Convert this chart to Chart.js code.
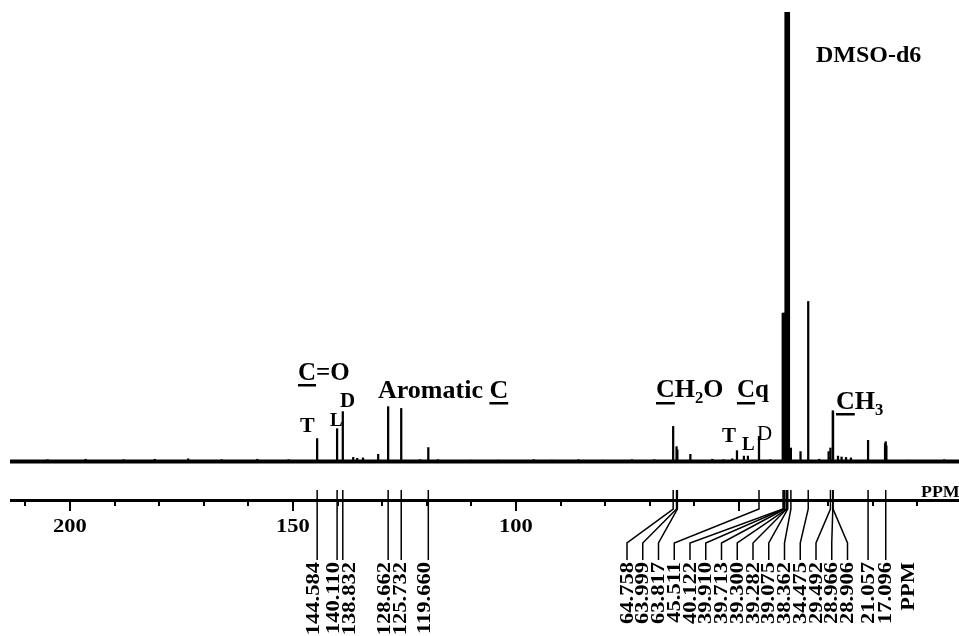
<!DOCTYPE html>
<html><head><meta charset="utf-8">
<script src="https://cdn.jsdelivr.net/npm/chart.js@4.4.0/dist/chart.umd.min.js"></script>
<style>html,body{margin:0;padding:0;background:#fff;overflow:hidden}#wrap{width:959px;height:636px;position:relative}</style>
</head><body><div id="wrap"><canvas id="c" width="959" height="636"></canvas></div>
<script>
// ---- DATA ----
const peakShifts  = [205.0,196.5,188.0,181.0,173.5,166.0,158.0,151.0,
  144.584,140.110,138.832,136.5,135.6,134.3,130.9,128.662,125.732,121.5,119.660,117.5,110.0,104.0,96.0,92.0,86.0,80.5,74.0,69.0,
  64.758,63.999,63.817,60.9,56.0,53.5,51.5,50.45,48.9,48.0,45.511,43.0,
  38.362,
  36.2,34.475,32.0,29.9,29.492,28.966,28.906,27.8,27.0,26.0,24.9,21.057,17.25,17.096,16.95,12.0,4.0];
const peakHeights = [0.4,0.5,0.4,0.5,0.6,0.4,0.5,0.4,
  5.1,7.3,11.1,0.9,0.7,0.8,1.6,12.2,11.8,0.4,3.1,0.4,0.3,0.3,0.4,0.3,0.4,0.3,0.4,0.4,
  7.8,3.3,2.6,1.6,0.5,0.4,0.6,2.4,1.2,1.2,5.6,0.4,
  3,
  2.2,35.6,0.5,2.2,3,11.3,11.0,1.2,1.0,0.9,0.8,4.7,4.0,4.4,3.5,0.3,0.4];
const solventShifts  = [40.122,39.910,39.713,39.500,39.282,39.075,38.870];
const solventHeights = [33,33,33,100,100,100,100];
const labelsLeft  = ['144.584','140.110','138.832','128.662','125.732','119.660'];
const labelsRight = ['64.758','63.999','63.817','45.511','40.122','39.910','39.713','39.300','39.282','39.075','38.362','34.475','29.492','28.966','28.906','21.057','17.096'];
const axisLabels  = [200,150,100];
const axisMin = 0.67, axisMax = 213.45;

// ---- drawing helpers ----
const SERIF = '"Liberation Serif","Times New Roman",serif';
function vlabel(ctx, text, cx, topY){
  ctx.save(); ctx.translate(cx, topY); ctx.rotate(-Math.PI/2); ctx.scale(1.25,1);
  ctx.font = 'bold 18px ' + SERIF; ctx.textAlign='right'; ctx.textBaseline='middle';
  ctx.fillText(text, 0, 1); ctx.restore();
}
function rich(ctx, x, y, segs, size, ulOff){
  ctx.save(); ctx.textAlign='left'; ctx.textBaseline='alphabetic';
  for (const s of segs){
    const fs = s.sub ? size*0.64 : size;
    ctx.font = 'bold ' + fs + 'px ' + SERIF;
    const w = ctx.measureText(s.t).width;
    ctx.fillText(s.t, x, s.sub ? y + size*0.22 : y);
    if (s.u) ctx.fillRect(x, y + ulOff, w, 2.5);
    x += w;
  }
  ctx.restore();
}
function letter(ctx, t, x, y, size, bold, sx){
  ctx.save(); ctx.translate(x, y); ctx.scale(sx || 1, 1);
  ctx.font = (bold?'bold ':'') + size + 'px ' + SERIF; ctx.textAlign='left'; ctx.textBaseline='alphabetic';
  ctx.fillText(t, 0, 0); ctx.restore();
}

const nmrPlugin = {
  id: 'nmr',
  afterDraw(chart){
    const ctx = chart.ctx, xs = chart.scales.x;
    ctx.save(); ctx.fillStyle = '#000'; ctx.strokeStyle = '#000';
    // lower ppm axis
    const axY = 500;
    ctx.fillRect(10, axY-1, 949, 3);
    for (let v = 210; v >= 10; v -= 10){
      const px = Math.round(xs.getPixelForValue(v));
      const major = v % 50 === 0;
      ctx.fillRect(px-1, axY, 2, major ? 11 : 6);
    }
    for (const v of axisLabels){
      const px = xs.getPixelForValue(v);
      ctx.save(); ctx.translate(px, 532); ctx.scale(1.25,1);
      ctx.font = 'bold 18px ' + SERIF; ctx.textAlign='center'; ctx.textBaseline='alphabetic';
      ctx.fillText(String(v), 0, 0); ctx.restore();
    }
    ctx.save(); ctx.translate(921, 497); ctx.scale(1.05,1);
    ctx.font = 'bold 17px ' + SERIF; ctx.textAlign='left'; ctx.textBaseline='alphabetic';
    ctx.fillText('PPM', 0, 0); ctx.restore();

    // left labelled peaks: straight lines, label columns kept apart
    ctx.lineWidth = 1.5;
    let prev = -1e9;
    for (const s of labelsLeft){
      const px = xs.getPixelForValue(parseFloat(s));
      let col = Math.max(px - 4, prev + 16);
      prev = col;
      ctx.beginPath(); ctx.moveTo(px, 490); ctx.lineTo(px, 560); ctx.stroke();
      vlabel(ctx, s, col, 562);
    }
    // right labelled peaks: leader lines to evenly spaced columns
    const n = labelsRight.length;
    labelsRight.forEach((s, i) => {
      const px = xs.getPixelForValue(parseFloat(s));
      const col = i < n-2 ? 627 + i*15.75 : px;
      ctx.beginPath(); ctx.moveTo(px, 490);
      if (Math.abs(col - px) > 1){ ctx.lineTo(px, 509); ctx.lineTo(col, 543); }
      ctx.lineTo(col, 560); ctx.stroke();
      vlabel(ctx, s, col, 562);
    });
    vlabel(ctx, 'PPM', 908, 562);

    // region annotations
    rich(ctx, 298, 380, [{t:'C',u:true},{t:'=O'}], 25, 4);
    rich(ctx, 378, 398, [{t:'Aromatic '},{t:'C',u:true}], 26, 4);
    rich(ctx, 656, 397, [{t:'C',u:true},{t:'H'},{t:'2',sub:true},{t:'O'}], 26, 5);
    rich(ctx, 737, 397, [{t:'C',u:true},{t:'q'}], 25, 5);
    rich(ctx, 836, 409, [{t:'C',u:true},{t:'H'},{t:'3',sub:true}], 26, 4);
    rich(ctx, 816, 62, [{t:'DMSO-d6'}], 24, 4);
    // T L D markers
    letter(ctx, 'T', 300, 432, 21, true, 1.05);
    letter(ctx, 'L', 330, 426, 19, true, 1.0);
    letter(ctx, 'D', 340, 407, 20, true, 1.05);
    letter(ctx, 'T', 722, 442, 21, true, 1.0);
    letter(ctx, 'L', 742, 450, 19, true, 1.0);
    letter(ctx, 'D', 757, 440, 20, false, 1.05);
    ctx.restore();
  }
};

new Chart(document.getElementById('c'), {
  type: 'bar',
  data: {
    datasets: [
      { type:'line', data:[{x:axisMin,y:0},{x:axisMax,y:0}], borderColor:'#000', borderWidth:4, pointRadius:0, order:3 },
      { type:'bar', data: peakShifts.map((p,i)=>({x:p, y:peakHeights[i]})), backgroundColor:'#000', borderWidth:0,
        barThickness:1.6, grouped:false, order:1 },
      { type:'bar', data: solventShifts.map((p,i)=>({x:p, y:solventHeights[i]})), backgroundColor:'#000', borderWidth:0,
        barThickness:2.2, grouped:false, order:2 }
    ]
  },
  options: {
    responsive:false, animation:false, devicePixelRatio:1,
    layout:{ padding:{ left:10, right:0, top:12, bottom:168 } },
    plugins:{ legend:{display:false}, tooltip:{enabled:false} },
    scales:{
      x:{ type:'linear', min:axisMin, max:axisMax, reverse:true, display:false, offset:false },
      y:{ min:-1.45, max:100, display:false }
    }
  },
  plugins:[nmrPlugin]
});
</script></body></html>
